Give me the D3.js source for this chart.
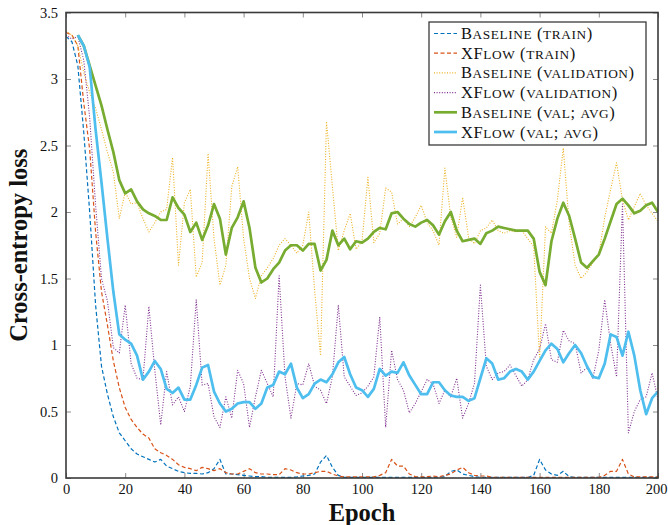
<!DOCTYPE html>
<html><head><meta charset="utf-8">
<script src="https://cdn.jsdelivr.net/npm/d3@7"></script>
<style>
body{margin:0;background:#fff}
svg{display:block}
text{font-family:"Liberation Serif","DejaVu Serif",serif;fill:#111}
</style>
</head><body>
<svg id="chart" width="668" height="525"></svg>
<script>
// ---------- data ----------
const xTicks = [0,20,40,60,80,100,120,140,160,180,200];
const yTicks = [0,0.5,1,1.5,2,2.5,3,3.5];
const yTickLabels = ["0","0.5","1","1.5","2","2.5","3","3.5"];

const seriesNames = ["Baseline (train)","XFlow (train)","Baseline (validation)","XFlow (validation)","Baseline (val; avg)","XFlow (val; avg)"];
const seriesColors = ["#0072BD","#D95319","#EDB120","#7E2F8E","#77AC30","#4DBEEE"];

const epochs = d3.range(0, 201, 2);      // 0..200 step 2
const avgEpochs = d3.range(4, 201, 2);   // 4..200 step 2

const baselineTrain = [
 3.32,3.28,3.1,2.6,2.0,1.3,0.84,0.63,0.46,0.34,
 0.28,0.22,0.18,0.16,0.14,0.12,0.14,0.09,0.07,0.05,
 0.04,0.035,0.035,0.03,0.04,0.07,0.14,0.03,0.03,0.025,
 0.02,0.015,0.01,0.01,0.005,0.005,0.005,0.005,0.005,0.008,
 0.015,0.02,0.03,0.12,0.17,0.08,0.02,0.005,0.004,0.004,
 0.004,0.004,0.004,0.004,0.004,0.004,0.004,0.004,0.004,0.004,
 0.004,0.004,0.004,0.006,0.01,0.05,0.06,0.03,0.02,0.01,
 0.005,0.004,0.004,0.004,0.004,0.004,0.004,0.004,0.004,0.02,
 0.14,0.06,0.03,0.02,0.05,0.01,0.004,0.004,0.004,0.004,
 0.004,0.004,0.004,0.004,0.004,0.004,0.004,0.004,0.004,0.004,
 0.004];

const xflowTrain = [
 3.35,3.33,3.25,2.82,2.47,1.85,1.4,1.15,0.88,0.68,
 0.53,0.44,0.38,0.33,0.3,0.22,0.19,0.17,0.14,0.1,
 0.08,0.07,0.055,0.08,0.07,0.055,0.07,0.04,0.03,0.03,
 0.05,0.07,0.04,0.03,0.03,0.025,0.025,0.07,0.06,0.04,
 0.03,0.03,0.04,0.05,0.05,0.03,0.015,0.008,0.008,0.008,
 0.008,0.008,0.008,0.02,0.04,0.14,0.09,0.09,0.03,0.01,
 0.008,0.01,0.015,0.01,0.02,0.03,0.06,0.08,0.04,0.02,
 0.015,0.015,0.005,0.005,0.005,0.005,0.005,0.005,0.005,0.005,
 0.005,0.005,0.005,0.005,0.005,0.005,0.005,0.005,0.005,0.005,
 0.005,0.02,0.05,0.05,0.14,0.03,0.008,0.008,0.008,0.008,
 0.008];

const baselineVal = [
 3.36,3.33,3.25,3.05,2.9,2.78,2.62,2.45,2.3,1.95,
 2.15,2.06,2.07,1.95,1.85,1.92,2.0,2.02,2.41,1.6,
 2.07,2.17,1.51,1.62,2.44,1.8,1.45,1.6,2.19,2.34,
 1.8,1.5,1.35,1.52,1.58,1.65,1.75,1.8,1.75,1.69,
 1.75,2.0,1.41,0.92,2.68,2.19,1.71,1.86,1.99,1.72,
 1.78,2.26,1.77,1.84,2.18,2.15,1.91,1.95,1.89,1.96,
 2.05,1.92,1.86,1.75,2.33,1.96,1.81,2.11,1.81,1.76,
 1.86,1.88,1.94,1.86,1.84,1.86,1.85,1.86,1.8,1.74,
 0.9,1.89,1.84,2.09,2.48,1.91,1.6,1.5,1.55,1.62,
 1.68,1.96,2.17,2.37,2.09,1.94,2.04,2.14,2.05,1.99,
 1.93];

const xflowVal = [
 3.33,3.3,3.32,3.14,2.71,2.05,1.5,1.33,0.98,0.94,
 1.3,0.86,0.75,0.74,1.29,0.81,0.4,0.8,0.55,0.61,
 0.5,0.69,1.34,0.7,0.71,0.46,0.38,0.61,0.45,0.81,
 0.71,0.38,0.61,0.81,0.71,0.61,1.52,0.76,0.45,0.71,
 0.7,0.86,0.69,0.66,0.56,0.76,1.3,0.76,0.69,0.62,
 0.64,0.69,0.76,1.21,0.38,0.96,0.74,0.66,0.49,0.56,
 0.65,0.74,0.71,0.56,0.66,0.61,0.75,0.45,0.56,0.71,
 1.45,0.84,0.74,0.79,0.8,0.85,0.77,0.69,0.74,0.89,
 0.97,1.16,0.89,0.87,1.11,1.03,1.01,0.79,0.83,0.75,
 0.96,1.34,1.01,0.76,2.06,0.34,0.5,0.59,0.61,0.79,
 0.59];

const baselineAvg = [
 3.33,3.25,3.1,2.95,2.8,2.62,2.45,2.24,2.14,2.17,
 2.08,2.02,1.99,1.97,1.94,1.94,2.11,2.03,1.98,1.85,
 1.92,1.79,1.9,2.06,1.95,1.68,1.88,1.96,2.08,1.88,
 1.58,1.47,1.5,1.57,1.62,1.71,1.75,1.75,1.71,1.76,
 1.76,1.56,1.64,1.86,1.75,1.8,1.72,1.78,1.77,1.8,
 1.85,1.88,1.87,1.99,2.0,1.95,1.91,1.89,1.92,1.94,
 1.9,1.83,1.93,2.0,1.86,1.78,1.79,1.8,1.76,1.84,
 1.86,1.89,1.88,1.87,1.86,1.86,1.86,1.8,1.55,1.45,
 1.78,1.95,2.07,1.97,1.8,1.62,1.58,1.63,1.68,1.8,
 1.93,2.06,2.1,2.05,1.99,2.01,2.05,2.07,2.0];

const xflowAvg = [
 3.33,3.25,3.09,2.62,2.22,1.8,1.4,1.08,1.04,1.01,
 0.92,0.74,0.8,0.88,0.82,0.67,0.64,0.68,0.59,0.59,
 0.7,0.83,0.85,0.65,0.56,0.5,0.52,0.56,0.57,0.57,
 0.52,0.56,0.68,0.7,0.8,0.78,0.86,0.68,0.6,0.63,
 0.71,0.74,0.72,0.78,0.87,0.91,0.78,0.68,0.66,0.61,
 0.67,0.82,0.77,0.8,0.79,0.87,0.77,0.7,0.63,0.63,
 0.72,0.72,0.66,0.62,0.61,0.61,0.58,0.6,0.75,0.9,
 0.86,0.74,0.75,0.8,0.82,0.8,0.74,0.8,0.88,0.96,
 1.01,0.97,0.87,0.94,1.0,0.94,0.84,0.76,0.75,0.86,
 1.08,1.06,0.92,1.1,0.92,0.66,0.48,0.6,0.65];

// ---------- layout ----------
const L = 66, R = 658, T = 12.5, B = 478;
const svg = d3.select("#chart");
const x = d3.scaleLinear().domain([0, 200]).range([L, R]);
const y = d3.scaleLinear().domain([0, 3.5]).range([B, T]);

svg.append("defs").append("clipPath").attr("id","plotclip")
  .append("rect").attr("x",L).attr("y",T).attr("width",R-L).attr("height",B-T);

function styleAxis(g){
  g.select(".domain").remove();
  g.selectAll(".tick line").attr("stroke","#8c8c8c").attr("stroke-width",1);
  g.selectAll(".tick text").attr("font-size",14.5).attr("fill","#111")
    .style("font-family",'"Liberation Serif","DejaVu Serif",serif');
}
const gx = svg.append("g").attr("transform",`translate(0,${B})`)
  .call(d3.axisBottom(x).tickValues(xTicks).tickSize(-5).tickPadding(6).tickFormat(d3.format("d")))
  .call(styleAxis);
gx.selectAll(".tick text").filter(d=>d===200).attr("dx",-2);
svg.append("g").attr("transform",`translate(0,${T})`)
  .call(d3.axisTop(x).tickValues(xTicks).tickSize(-5).tickFormat(""))
  .call(styleAxis);
svg.append("g").attr("transform",`translate(${L},0)`)
  .call(d3.axisLeft(y).tickValues(yTicks).tickSize(-5).tickPadding(8).tickFormat((d,i)=>yTickLabels[i]))
  .call(styleAxis);
svg.append("g").attr("transform",`translate(${R},0)`)
  .call(d3.axisRight(y).tickValues(yTicks).tickSize(-5).tickFormat(""))
  .call(styleAxis);

// series
const plot = svg.append("g").attr("clip-path","url(#plotclip)");
const line = d3.line().x(d=>x(d[0])).y(d=>y(d[1]));
const seriesDefs = [
  {xs: epochs, ys: baselineTrain, c: 0, w: 1.2, dash: "4,2.5"},
  {xs: epochs, ys: xflowTrain,    c: 1, w: 1.2, dash: "4,2.5"},
  {xs: epochs, ys: baselineVal,   c: 2, w: 1.1, dash: "1,1.6"},
  {xs: epochs, ys: xflowVal,      c: 3, w: 1.1, dash: "1,1.6"},
  {xs: avgEpochs, ys: baselineAvg, c: 4, w: 2.7, dash: null},
  {xs: avgEpochs, ys: xflowAvg,    c: 5, w: 2.7, dash: null}
];
seriesDefs.forEach(s=>{
  const pts = s.xs.map((e,i)=>[e, s.ys[i]]);
  plot.append("path").datum(pts)
    .attr("d", line).attr("fill","none")
    .attr("stroke", seriesColors[s.c]).attr("stroke-width", s.w)
    .attr("stroke-linejoin","round")
    .attr("stroke-dasharray", s.dash);
});

// frame
svg.append("rect").attr("x",L).attr("y",T).attr("width",R-L).attr("height",B-T)
  .attr("fill","none").attr("stroke","#3a3a3a").attr("stroke-width",1.6);

// axis titles
svg.append("text").attr("x",(L+R)/2).attr("y",521).attr("text-anchor","middle")
  .attr("font-size",24.5).attr("font-weight","bold").text("Epoch");
svg.append("text").attr("transform",`translate(27,${(T+B)/2}) rotate(-90)`)
  .attr("text-anchor","middle").attr("font-size",24.5).attr("font-weight","bold")
  .text("Cross-entropy loss");

// manual small caps: capitals at full size, lowercase as smaller capitals
function smallCaps(textSel, str, big, small){
  const runs = [];
  for (const ch of str){
    const isLower = ch !== ch.toUpperCase();
    const last = runs[runs.length-1];
    if (last && last.lower === isLower) last.s += ch; else runs.push({s: ch, lower: isLower});
  }
  runs.forEach(r=>{
    textSel.append("tspan").attr("font-size", r.lower ? small : big)
      .text(r.lower ? r.s.toUpperCase() : r.s);
  });
}

// legend
const lg = svg.append("g");
const lx = 429, ly = 22, lw = 217, lh = 123;
lg.append("rect").attr("x",lx).attr("y",ly).attr("width",lw).attr("height",lh)
  .attr("fill","#fff").attr("stroke","#3a3a3a").attr("stroke-width",1.3);
seriesDefs.forEach((s,i)=>{
  const yy = ly + 11.5 + i*19.7;
  lg.append("line").attr("x1",lx+5).attr("x2",lx+28).attr("y1",yy).attr("y2",yy)
    .attr("stroke",seriesColors[s.c]).attr("stroke-width",s.w).attr("stroke-dasharray",s.dash);
  const t = lg.append("text").attr("x",lx+32).attr("y",yy+5.5).attr("font-size",16.5)
    .attr("letter-spacing",0.6);
  smallCaps(t, seriesNames[i], 16.5, 13.3);
});
</script>
</body></html>
